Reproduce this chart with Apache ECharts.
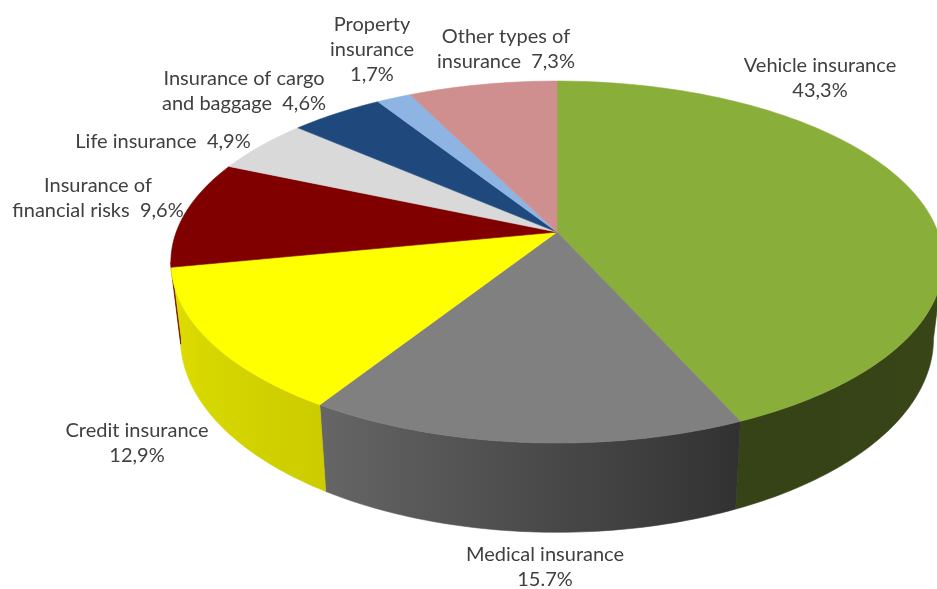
<!DOCTYPE html>
<html>
<head>
<meta charset="utf-8">
<script src="https://cdn.jsdelivr.net/npm/echarts@6/dist/echarts.min.js"></script>
<style>
  html, body { margin: 0; padding: 0; background: #fff; }
  #chart { width: 937px; height: 589px; }
</style>
</head>
<body>
<div id="chart"></div>
<script>
// data
const categories = ['Vehicle insurance', 'Medical insurance', 'Credit insurance', 'Insurance of\nfinancial risks',
    'Life insurance', 'Insurance of cargo\nand baggage', 'Property\ninsurance', 'Other types of\ninsurance'];
const shares = [43.3, 15.7, 12.9, 9.6, 4.9, 4.6, 1.7, 7.3];
const decimalMarks = [',', '.', ',', ',', ',', ',', ',', ','];

// look
const colors = ['#8AAE3A', '#808080', '#FFFF00', '#800000', '#D9D9D9', '#1F497D', '#8DB4E2', '#CF8F8F'];
const joiners = ['\n', '\n', '\n', '  ', '  ', '  ', '\n', '  '];
const labelPos = [[820, 78], [545, 567], [137, 443], [98, 198], [163, 142], [244, 91], [372, 50], [506, 49]];

// perspective of the disc
const cx = 557, horizon = -831, dist = 6.04, focal = 2300, camH = 6421, thick = 450, footScale = 0.975;
// the side wall is only seen between the two silhouette tangents
const edgeDeg = Math.acos(-1 / dist) * 180 / Math.PI;

function project(deg, bottom) {
    const t = deg * Math.PI / 180;
    const X = Math.sin(t), Z = -Math.cos(t);
    const k = dist - Z;
    const s = bottom ? footScale : 1;
    return [cx + s * focal * X / k, horizon + (camH + (bottom ? thick : 0)) / k];
}

// side brightness by angle (light from the front-left)
const shadeKeys = [[90, 0.41], [155, 0.38], [212, 0.80], [270, 0.90]];
function shadeFactor(deg) {
    for (let i = 1; i < shadeKeys.length; i++) {
        if (deg <= shadeKeys[i][0]) {
            const a = shadeKeys[i - 1], b = shadeKeys[i];
            return a[1] + (b[1] - a[1]) * (deg - a[0]) / (b[0] - a[0]);
        }
    }
    return shadeKeys[shadeKeys.length - 1][1];
}
function shade(hex, f) {
    const n = parseInt(hex.slice(1), 16);
    const r = Math.round(((n >> 16) & 255) * f), g = Math.round(((n >> 8) & 255) * f), b = Math.round((n & 255) * f);
    return 'rgb(' + r + ',' + g + ',' + b + ')';
}

const total = shares.reduce((a, b) => a + b, 0);
const starts = [];
let acc = 0;
shares.forEach(v => { starts.push(acc / total * 360); acc += v; });

function sliceRange(i, api) {
    const a0 = starts[i];
    return [a0, a0 + api.value(0) / total * 360];
}

const myChart = echarts.init(document.getElementById('chart'));

const option = {
    backgroundColor: '#fff',
    animation: false,
    series: [
        {
            // side walls
            type: 'custom',
            coordinateSystem: 'none',
            silent: true,
            z: 1,
            data: shares,
            renderItem: function (params, api) {
                const i = params.dataIndex;
                const r = sliceRange(i, api);
                const lo = Math.max(r[0], edgeDeg), hi = Math.min(r[1], 360 - edgeDeg);
                if (hi <= lo) return {type: 'group', children: []};
                const n = Math.max(2, Math.ceil(hi - lo));
                const top = [], foot = [];
                for (let j = 0; j <= n; j++) {
                    const t = lo + (hi - lo) * j / n;
                    top.push(project(t, false));
                    foot.unshift(project(t, true));
                }
                const x0 = top[0][0], x1 = top[n][0];
                const stops = [];
                for (let j = 0; j <= 8; j++) {
                    const t = lo + (hi - lo) * j / 8;
                    stops.push({offset: (project(t, false)[0] - x0) / (x1 - x0), color: shade(colors[i], shadeFactor(t))});
                }
                const fill = new echarts.graphic.LinearGradient(x0, 0, x1, 0, stops, true);
                return {
                    type: 'polygon',
                    shape: {points: top.concat(foot)},
                    style: {fill: fill, stroke: fill, lineWidth: 0.6}
                };
            }
        },
        {
            // top faces + labels
            type: 'custom',
            coordinateSystem: 'none',
            silent: true,
            z: 2,
            data: shares,
            renderItem: function (params, api) {
                const i = params.dataIndex;
                const r = sliceRange(i, api);
                const pts = [[cx, horizon + camH / dist]];
                const n = Math.max(2, Math.ceil(r[1] - r[0]));
                for (let j = 0; j <= n; j++) pts.push(project(r[0] + (r[1] - r[0]) * j / n, false));
                const label = categories[i] + joiners[i] + api.value(0).toFixed(1).replace('.', decimalMarks[i]) + '%';
                return {
                    type: 'group',
                    children: [
                        {
                            type: 'polygon',
                            shape: {points: pts},
                            style: {fill: colors[i], stroke: colors[i], lineWidth: 0.6}
                        },
                        {
                            type: 'text',
                            x: labelPos[i][0],
                            y: labelPos[i][1],
                            style: {
                                text: label,
                                font: '20px Lato',
                                fill: '#404040',
                                align: 'center',
                                verticalAlign: 'middle',
                                lineHeight: 25
                            }
                        }
                    ]
                };
            }
        }
    ]
};

option && myChart.setOption(option);
</script>
</body>
</html>
